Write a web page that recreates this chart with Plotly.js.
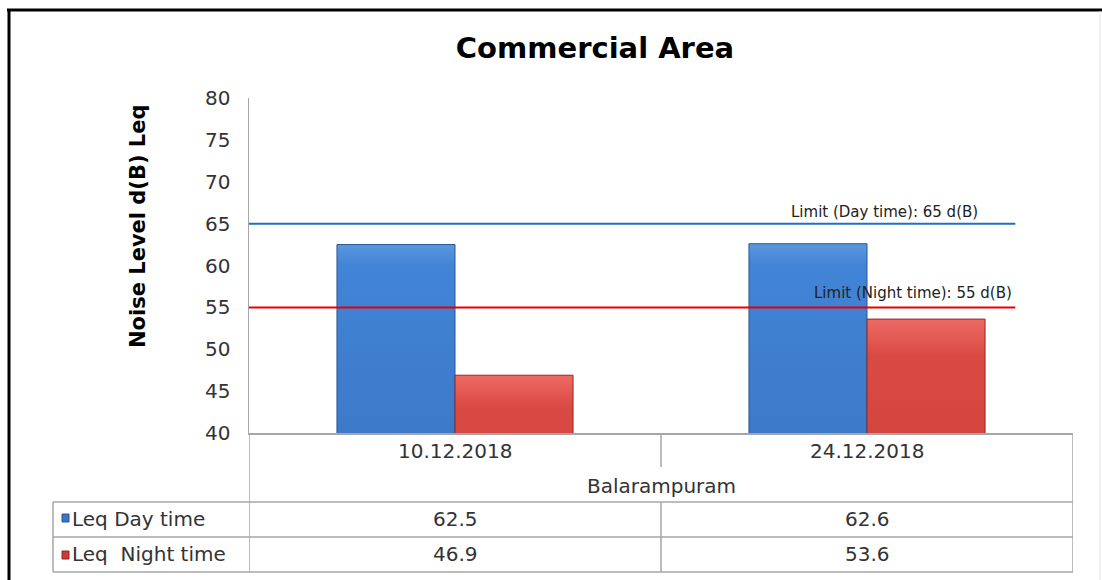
<!DOCTYPE html>
<html>
<head>
<meta charset="utf-8">
<script src="https://cdn.plot.ly/plotly-3.0.1.min.js"></script>
<style>
html,body{margin:0;padding:0;background:#fff;}
#chart{width:1102px;height:580px;}
</style>
</head>
<body>
<div id="chart"></div>
<script>
// ---- data ----
const categories = ["10.12.2018", "24.12.2018"];
const groupLabel = "Balarampuram";
const seriesNames = ["Leq Day time", "Leq  Night time"];
const dayValues = [62.5, 62.6];
const nightValues = [46.9, 53.6];
const dayLabels = ["62.5", "62.6"];
const nightLabels = ["46.9", "53.6"];
const limitDay = 65;
const limitNight = 55;
const limitDayText = "Limit (Day time): 65 d(B)";
const limitNightText = "Limit (Night time): 55 d(B)";
const yTicks = [40, 45, 50, 55, 60, 65, 70, 75, 80];

// ---- layout helpers (plot area: x 249..1073, y 98..433) ----
const PT = 98, PB = 433, PH = PB - PT;
const PL = 249, PR = 1073, PW = PR - PL;
const py = v => (PB - v) / PH;   // pixel y -> paper y
const px = v => (v - PL) / PW;   // pixel x -> paper x

const FONT = "DejaVu Sans, Verdana, sans-serif";
const gridCol = "#a6a6a6";
const txtCol = "#333333";

const traces = [
  {
    type: "bar", name: seriesNames[0], x: categories, y: dayValues,
    marker: {color: "#3a75c4", line: {color: "#2a5796", width: 1}},
    hoverinfo: "y"
  },
  {
    type: "bar", name: seriesNames[1], x: categories, y: nightValues,
    marker: {color: "#c93d38", line: {color: "#932724", width: 1}},
    hoverinfo: "y"
  }
];

const xFirst = -0.5, xMid = 0.5, xLast = categories.length - 0.5;
const limitEnd = 1.36;

const shapes = [
  // limit lines
  {type: "line", xref: "x", yref: "y", x0: xFirst, x1: limitEnd, y0: limitDay, y1: limitDay,
   line: {color: "#1f6fc4", width: 2}},
  {type: "line", xref: "x", yref: "y", x0: xFirst, x1: limitEnd, y0: limitNight, y1: limitNight,
   line: {color: "#e60000", width: 2}},
  // table lines
  {type: "line", xref: "x", yref: "paper", x0: xFirst, x1: xFirst, y0: 0, y1: py(572), line: {color: gridCol, width: 1.5}},
  {type: "line", xref: "x", yref: "paper", x0: xLast, x1: xLast, y0: 0, y1: py(572), line: {color: gridCol, width: 1.5}},
  {type: "line", xref: "x", yref: "paper", x0: xMid, x1: xMid, y0: 0, y1: py(467), line: {color: gridCol, width: 1.5}},
  {type: "line", xref: "x", yref: "paper", x0: xMid, x1: xMid, y0: py(502), y1: py(572), line: {color: gridCol, width: 1.5}},
  {type: "line", xref: "paper", yref: "paper", x0: px(53), x1: 1, y0: py(502), y1: py(502), line: {color: gridCol, width: 1.5}},
  {type: "line", xref: "paper", yref: "paper", x0: px(53), x1: 1, y0: py(537), y1: py(537), line: {color: gridCol, width: 1.5}},
  {type: "line", xref: "paper", yref: "paper", x0: px(53), x1: 1, y0: py(572), y1: py(572), line: {color: gridCol, width: 1.5}},
  {type: "line", xref: "paper", yref: "paper", x0: px(53), x1: px(53), y0: py(502), y1: py(572), line: {color: gridCol, width: 1.5}},
  // legend keys
  {type: "rect", xref: "paper", yref: "paper", x0: px(62), x1: px(69), y0: py(514), y1: py(522),
   fillcolor: "#3a75c4", line: {color: "#2a5796", width: 1}},
  {type: "rect", xref: "paper", yref: "paper", x0: px(62), x1: px(69), y0: py(551), y1: py(559),
   fillcolor: "#c93d38", line: {color: "#932724", width: 1}},
  // outer frame
  {type: "line", xref: "paper", yref: "paper", x0: px(7), x1: px(1110), y0: py(10), y1: py(10), line: {color: "#000", width: 3}},
  {type: "line", xref: "paper", yref: "paper", x0: px(9), x1: px(9), y0: py(9), y1: py(590), line: {color: "#000", width: 3}},
  {type: "line", xref: "paper", yref: "paper", x0: px(1100), x1: px(1100), y0: py(11), y1: py(590), line: {color: "#e4e4e4", width: 1}}
];

const mid = {showarrow: false, yanchor: "middle"};
const annotations = [
  // y axis title
  Object.assign({text: "<b>Noise Level d(B) Leq</b>", xref: "paper", yref: "paper", x: px(138), y: py(226),
   xanchor: "center", textangle: -90, font: {family: FONT, size: 21, color: "#000"}}, mid),
  // limit labels
  Object.assign({text: limitDayText, xref: "paper", yref: "paper", x: px(980), y: py(212), xanchor: "right",
   font: {family: FONT, size: 15, color: "#222"}}, mid),
  Object.assign({text: limitNightText, xref: "paper", yref: "paper", x: px(1014), y: py(293), xanchor: "right",
   font: {family: FONT, size: 15, color: "#222"}}, mid),
  // group label
  Object.assign({text: groupLabel, xref: "x", yref: "paper", x: xMid, y: py(486), xanchor: "center",
   font: {family: FONT, size: 20, color: txtCol}}, mid),
  // row labels
  Object.assign({text: seriesNames[0], xref: "paper", yref: "paper", x: px(70), y: py(519), xanchor: "left",
   font: {family: FONT, size: 20, color: txtCol}}, mid),
  Object.assign({text: seriesNames[1].replace(/  /g, " &nbsp;"), xref: "paper", yref: "paper", x: px(70), y: py(554), xanchor: "left",
   font: {family: FONT, size: 20, color: txtCol}}, mid)
];
categories.forEach((c, i) => {
  annotations.push(Object.assign({text: c, xref: "x", yref: "paper", x: i, y: py(451), xanchor: "center",
    font: {family: FONT, size: 20, color: txtCol}}, mid));
  annotations.push(Object.assign({text: dayLabels[i], xref: "x", yref: "paper", x: i, y: py(519), xanchor: "center",
    font: {family: FONT, size: 20, color: txtCol}}, mid));
  annotations.push(Object.assign({text: nightLabels[i], xref: "x", yref: "paper", x: i, y: py(554), xanchor: "center",
    font: {family: FONT, size: 20, color: txtCol}}, mid));
});

const layout = {
  width: 1102, height: 580,
  margin: {l: PL, r: 1102 - PR, t: PT, b: 580 - PB, pad: 0},
  paper_bgcolor: "#fff", plot_bgcolor: "#fff",
  showlegend: false,
  barmode: "group", bargap: 0.427, bargroupgap: 0,
  title: {text: "<b>Commercial Area</b>", x: 595 / 1102, xanchor: "center", y: 1 - 48 / 580, yanchor: "middle",
          font: {family: FONT, size: 29, color: "#000"}},
  xaxis: {type: "category", showticklabels: false, ticks: "", showgrid: false, zeroline: false,
          showline: true, linecolor: gridCol, linewidth: 1.5, range: [xFirst, xLast], fixedrange: true},
  yaxis: {range: [40, 80], tickvals: yTicks, ticktext: yTicks.map(String), showgrid: false, zeroline: false,
          showline: true, linecolor: gridCol, linewidth: 1.5, ticks: "", ticklabelstandoff: 13,
          tickfont: {family: FONT, size: 20, color: txtCol}, fixedrange: true},
  shapes: shapes,
  annotations: annotations
};

Plotly.newPlot("chart", traces, layout, {displayModeBar: false, staticPlot: true}).then(gd => {
  // vertical gradient fill on bars, imitating the bevelled look
  const svg = gd.querySelector("svg.main-svg");
  const NS = "http://www.w3.org/2000/svg";
  let defs = svg.querySelector("defs");
  if (!defs) { defs = document.createElementNS(NS, "defs"); svg.insertBefore(defs, svg.firstChild); }
  const mk = (id, stops) => {
    const g = document.createElementNS(NS, "linearGradient");
    g.setAttribute("id", id); g.setAttribute("x1", "0"); g.setAttribute("y1", "0");
    g.setAttribute("x2", "0"); g.setAttribute("y2", "1");
    stops.forEach(([o, c]) => {
      const s = document.createElementNS(NS, "stop");
      s.setAttribute("offset", o); s.setAttribute("stop-color", c); g.appendChild(s);
    });
    defs.appendChild(g);
  };
  mk("gBlue", [["0", "#5b97e0"], ["0.04", "#4284d6"], ["0.5", "#3a75c4"], ["1", "#2f61a8"]]);
  mk("gRed", [["0", "#ee6a64"], ["0.08", "#da4a44"], ["0.5", "#cc3f3a"], ["1", "#b0302c"]]);
  const ids = ["gBlue", "gRed"];
  gd.querySelectorAll(".barlayer .trace").forEach((t, i) => {
    t.querySelectorAll("path").forEach(p => { p.style.fill = "url(#" + ids[i] + ")"; });
  });
});
</script>
</body>
</html>
